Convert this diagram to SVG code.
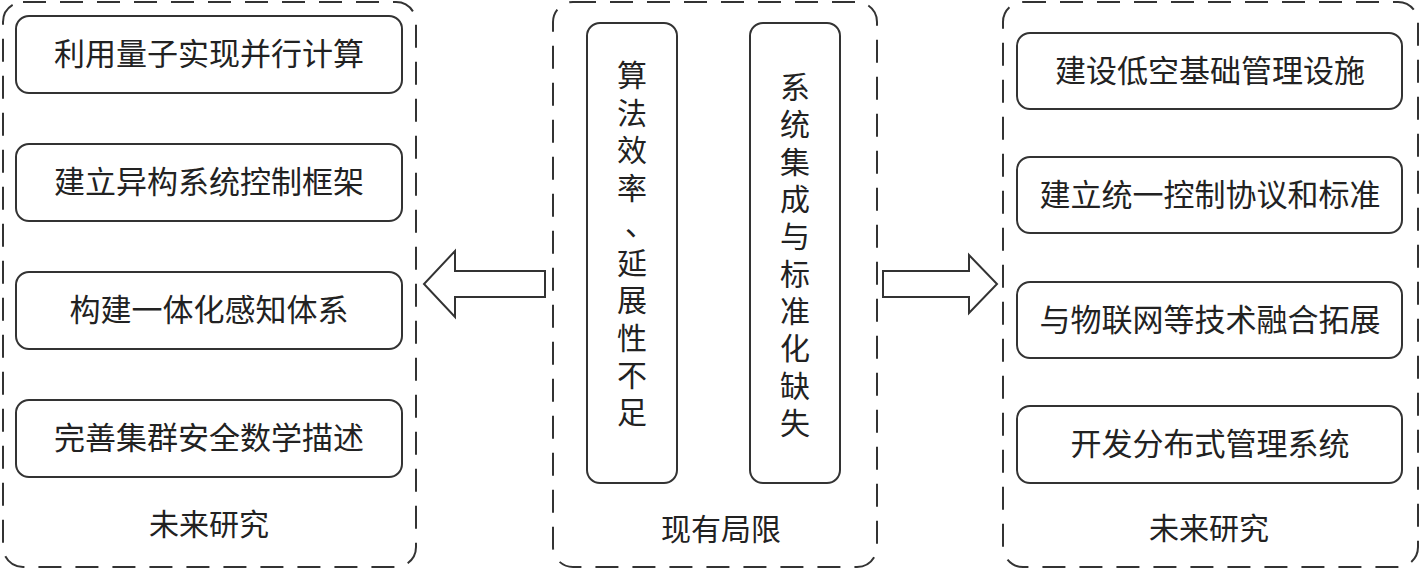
<svg xmlns="http://www.w3.org/2000/svg" width="1420" height="570" viewBox="0 0 1420 570">
<style>
.grp{fill:none;stroke:#333;stroke-width:2;stroke-dasharray:23 14}
.box{fill:#fff;stroke:#333;stroke-width:2}
.t{font-family:"Liberation Serif","Noto Sans CJK SC",serif;font-size:30px;fill:#222;text-anchor:middle;dominant-baseline:central}
.b{font-size:31px}
.arr{fill:#fff;stroke:#333;stroke-width:2;stroke-linejoin:miter}
</style>
<rect width="1420" height="570" fill="#fff"/>
<g id="left-group">
<rect class="grp" x="3" y="2" width="413" height="565" rx="20"/>
<text class="t" x="209" y="524">未来研究</text>
</g>
<g id="left-1"><rect class="box" x="16" y="16" width="386" height="77" rx="13"/><text class="t b" x="209" y="54">利用量子实现并行计算</text></g>
<g id="left-2"><rect class="box" x="16" y="144" width="386" height="77" rx="13"/><text class="t b" x="209" y="182">建立异构系统控制框架</text></g>
<g id="left-3"><rect class="box" x="16" y="272" width="386" height="77" rx="13"/><text class="t b" x="209" y="310">构建一体化感知体系</text></g>
<g id="left-4"><rect class="box" x="16" y="400" width="386" height="77" rx="13"/><text class="t b" x="209" y="438">完善集群安全数学描述</text></g>
<g id="mid-group">
<rect class="grp" x="553" y="2" width="324" height="565" rx="20"/>
<text class="t" x="721" y="529">现有局限</text>
</g>
<g id="mid-1"><rect class="box" x="587" y="23" width="90" height="460" rx="13"/>
<text class="t"><tspan x="632" y="75">算</tspan><tspan x="632" y="113">法</tspan><tspan x="632" y="150">效</tspan><tspan x="632" y="188">率</tspan><tspan x="640" y="224">、</tspan><tspan x="632" y="263">延</tspan><tspan x="632" y="300">展</tspan><tspan x="632" y="338">性</tspan><tspan x="632" y="375">不</tspan><tspan x="632" y="412">足</tspan></text></g>
<g id="mid-2"><rect class="box" x="750" y="23" width="90" height="460" rx="13"/>
<text class="t"><tspan x="795" y="87">系</tspan><tspan x="795" y="124">统</tspan><tspan x="795" y="162">集</tspan><tspan x="795" y="199">成</tspan><tspan x="795" y="236">与</tspan><tspan x="795" y="274">标</tspan><tspan x="795" y="311">准</tspan><tspan x="795" y="348">化</tspan><tspan x="795" y="386">缺</tspan><tspan x="795" y="423">失</tspan></text></g>
<g id="right-group">
<rect class="grp" x="1003" y="2" width="415" height="565" rx="20"/>
<text class="t" x="1209" y="528">未来研究</text>
</g>
<g id="right-1"><rect class="box" x="1017" y="33" width="385" height="76" rx="13"/><text class="t b" x="1210" y="71">建设低空基础管理设施</text></g>
<g id="right-2"><rect class="box" x="1017" y="157" width="385" height="76" rx="13"/><text class="t b" x="1210" y="195">建立统一控制协议和标准</text></g>
<g id="right-3"><rect class="box" x="1017" y="282" width="385" height="76" rx="13"/><text class="t b" x="1210" y="320">与物联网等技术融合拓展</text></g>
<g id="right-4"><rect class="box" x="1017" y="406" width="385" height="77" rx="13"/><text class="t b" x="1210" y="444">开发分布式管理系统</text></g>
<g id="connectors">
<polygon class="arr" points="545,271 455,271 455,251 424,284 455,317 455,297 545,297"/>
<polygon class="arr" points="883,271 969,271 969,255 997,284 969,313 969,297 883,297"/>
</g>
</svg>
